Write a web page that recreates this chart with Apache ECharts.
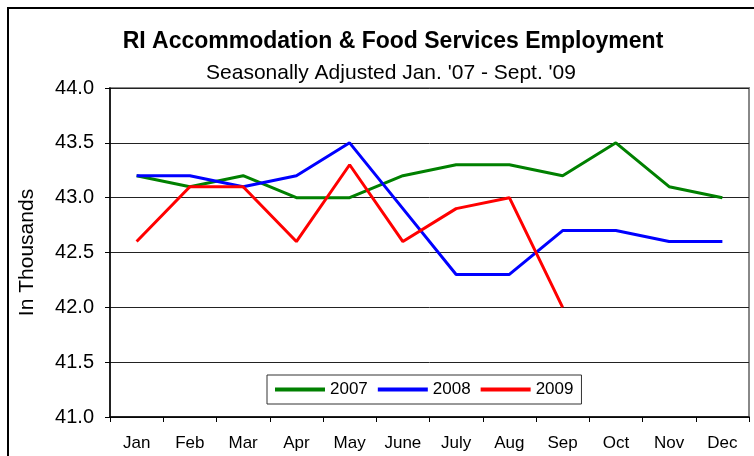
<!DOCTYPE html>
<html>
<head>
<meta charset="utf-8">
<script src="https://cdn.jsdelivr.net/npm/echarts@6/dist/echarts.min.js"></script>
<style>
  html, body { margin: 0; padding: 0; background: #fff; }
  #chart { width: 754px; height: 456px; }
</style>
</head>
<body>
<div id="chart"></div>
<script>
  // months on the x axis
  var months = ['Jan', 'Feb', 'Mar', 'Apr', 'May', 'June', 'July', 'Aug', 'Sep', 'Oct', 'Nov', 'Dec'];
  // employment, in thousands
  var y2007 = [43.2, 43.1, 43.2, 43.0, 43.0, 43.2, 43.3, 43.3, 43.2, 43.5, 43.1, 43.0];
  var y2008 = [43.2, 43.2, 43.1, 43.2, 43.5, 42.9, 42.3, 42.3, 42.7, 42.7, 42.6, 42.6];
  var y2009 = [42.6, 43.1, 43.1, 42.6, 43.3, 42.6, 42.9, 43.0, 42.0];
  var yearNames = ['2007', '2008', '2009'];

  var font = '"Liberation Sans", Arial, sans-serif';
  var chart = echarts.init(document.getElementById('chart'));

  function makeLine(name, data, color) {
    return {
      name: name,
      type: 'line',
      data: data,
      symbol: 'none',
      lineStyle: { color: color, width: 3 },
      itemStyle: { color: color },
      animation: false
    };
  }

  var option = {
    backgroundColor: '#fff',
    textStyle: { fontFamily: font },
    graphic: [{
      type: 'rect',
      shape: { x: 8, y: 8, width: 780, height: 480 },
      style: { fill: null, stroke: '#000', lineWidth: 2 },
      silent: true
    }],
    title: [
      {
        text: 'RI Accommodation & Food Services Employment',
        left: 388, top: 25, textAlign: 'center',
        textStyle: { fontFamily: font, fontSize: 23, fontWeight: 'bold', color: '#000' }
      },
      {
        text: "Seasonally Adjusted Jan. '07 - Sept. '09",
        left: 386, top: 58, textAlign: 'center',
        textStyle: { fontFamily: font, fontSize: 21, fontWeight: 'normal', color: '#000' }
      }
    ],
    legend: {
      data: yearNames,
      left: 267, top: 375,
      orient: 'horizontal',
      icon: 'rect',
      itemWidth: 50, itemHeight: 4,
      itemGap: 10,
      padding: [6, 8, 6, 8],
      borderColor: '#333', borderWidth: 1,
      textStyle: { fontFamily: font, fontSize: 17, color: '#000' }
    },
    grid: {
      left: 110, top: 88, width: 639, height: 329,
      show: true, borderColor: '#888', borderWidth: 2, backgroundColor: '#fff'
    },
    xAxis: {
      type: 'category',
      data: months,
      boundaryGap: true,
      axisLine: { lineStyle: { color: '#000', width: 1.5 } },
      axisTick: { show: true, length: 5, lineStyle: { color: '#000' } },
      axisLabel: { color: '#000', fontSize: 17, margin: 18, fontFamily: font },
      splitLine: { show: false }
    },
    yAxis: {
      type: 'value',
      min: 41, max: 44, interval: 0.5,
      name: 'In Thousands',
      nameLocation: 'middle',
      nameGap: 72,
      nameTextStyle: { color: '#000', fontSize: 21, fontFamily: font },
      axisLine: { show: true, lineStyle: { color: '#000', width: 1.5 } },
      axisTick: { show: true, length: 5, lineStyle: { color: '#000' } },
      axisLabel: {
        color: '#000', fontSize: 20, margin: 16, fontFamily: font,
        formatter: function (v) { return v.toFixed(1); }
      },
      splitLine: { show: true, lineStyle: { color: '#222', width: 1 } }
    },
    series: [
      makeLine('2007', y2007, '#008000'),
      makeLine('2008', y2008, '#0000ff'),
      makeLine('2009', y2009, '#ff0000')
    ]
  };

  chart.setOption(option);
</script>
</body>
</html>
